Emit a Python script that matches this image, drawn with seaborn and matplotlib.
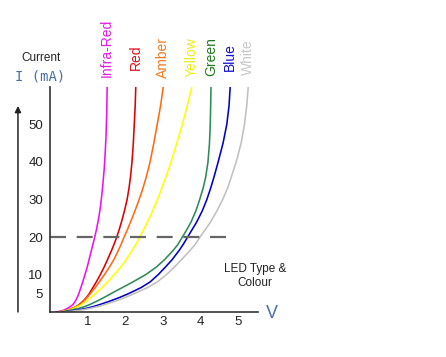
import numpy as np
import pandas as pd
import matplotlib
matplotlib.use("Agg")
import matplotlib.pyplot as plt
import matplotlib.transforms as mtransforms
import seaborn as sns

# ---------------------------------------------
# data (V in volts, I in mA)
# ---------------------------------------------
led_names = ["Infra-Red", "Red", "Amber", "Yellow", "Green", "Blue", "White"]

ir_i = [0, 0.2, 0.5, 1, 1.5, 2, 3, 4, 5, 6.5, 8, 10, 12, 14, 16, 18, 20, 22, 24, 26, 28, 31, 34, 38, 42, 47, 53, 60]
ir_v = [0.15, 0.26, 0.37, 0.47, 0.55, 0.61, 0.68, 0.73, 0.77, 0.82, 0.87, 0.93, 0.99, 1.04, 1.09, 1.14, 1.19,
        1.235, 1.275, 1.31, 1.34, 1.375, 1.405, 1.44, 1.465, 1.49, 1.508, 1.52]

# the other six curves share the same current steps
i_steps = [0, 0.3, 0.6, 1, 1.5, 2, 3, 4, 5, 6.5, 8, 10, 12, 14, 16.5, 18, 20, 22, 24, 27, 30, 33, 36, 40, 45, 50, 55, 60]

red_v = [0.25, 0.39, 0.50, 0.60, 0.70, 0.78, 0.89, 0.98, 1.05, 1.14, 1.23, 1.34, 1.44, 1.53, 1.64, 1.70, 1.775,
         1.84, 1.90, 1.98, 2.05, 2.10, 2.14, 2.18, 2.215, 2.24, 2.265, 2.28]
amber_v = [0.25, 0.38, 0.50, 0.61, 0.71, 0.80, 0.91, 1.00, 1.08, 1.20, 1.31, 1.45, 1.58, 1.70, 1.82, 1.89, 1.97,
           2.06, 2.14, 2.26, 2.37, 2.47, 2.56, 2.66, 2.76, 2.85, 2.94, 3.01]
yellow_v = [0.25, 0.40, 0.53, 0.64, 0.75, 0.84, 0.98, 1.10, 1.22, 1.38, 1.53, 1.71, 1.88, 2.03, 2.19, 2.28, 2.39,
            2.49, 2.59, 2.73, 2.86, 2.97, 3.08, 3.22, 3.37, 3.52, 3.65, 3.77]
green_v = [0.30, 0.45, 0.60, 0.78, 0.94, 1.06, 1.27, 1.46, 1.64, 1.92, 2.20, 2.55, 2.83, 3.05, 3.28, 3.40, 3.52,
           3.64, 3.75, 3.88, 3.98, 4.07, 4.14, 4.20, 4.24, 4.26, 4.272, 4.28]
blue_v = [0.35, 0.58, 0.78, 0.98, 1.17, 1.33, 1.62, 1.88, 2.11, 2.42, 2.66, 2.88, 3.07, 3.25, 3.44, 3.54, 3.66,
          3.78, 3.90, 4.05, 4.17, 4.27, 4.36, 4.47, 4.60, 4.70, 4.76, 4.79]
white_v = [0.40, 0.65, 0.88, 1.08, 1.29, 1.46, 1.77, 2.03, 2.26, 2.59, 2.85, 3.10, 3.31, 3.50, 3.73, 3.86, 3.99,
           4.13, 4.27, 4.44, 4.59, 4.72, 4.82, 4.95, 5.08, 5.17, 5.23, 5.27]

y_ticks = [5, 10, 20, 30, 40, 50]
x_ticks = [1, 2, 3, 4, 5]
dash_level = 20
dash_end = 4.92

curve_colors = ["#ee11ee", "#dd0000", "#ff6a13", "#ffff00", "#2e8b57", "#0000cc", "#c0c0c0"]
label_colors = ["#e619e6", "#e0101a", "#f47a20", "#eeee10", "#1e7a1e", "#1010d0", "#c8c8c8"]
axis_blue = "#4a6fa5"

# ---------------------------------------------
# long table for seaborn
# ---------------------------------------------
series = [(ir_v, ir_i), (red_v, i_steps), (amber_v, i_steps), (yellow_v, i_steps),
          (green_v, i_steps), (blue_v, i_steps), (white_v, i_steps)]
frames = []
for name, (vv, ii) in zip(led_names, series):
    frames.append(pd.DataFrame({"V": vv, "I": ii, "LED": name}))
df = pd.concat(frames, ignore_index=True)

sns.set_theme(style="white")
plt.rcParams["font.family"] = ["Liberation Sans", "DejaVu Sans"]

fig = plt.figure(figsize=(4.46, 3.57), dpi=100)
ax = fig.add_axes([50 / 446, 45 / 357, 208 / 446, 225 / 357])

sns.lineplot(data=df, x="V", y="I", hue="LED", hue_order=led_names,
             palette=dict(zip(led_names, curve_colors)), sort=False,
             estimator=None, legend=False, linewidth=1.15, ax=ax,
             solid_joinstyle="round", solid_capstyle="round")

ax.plot([0, dash_end], [dash_level, dash_level], color="#666666", linewidth=1.6,
        dashes=(7.2, 4.8))

ax.set_xlim(0, 5.53)
ax.set_ylim(0, 60)
ax.set_xticks(x_ticks)
ax.set_xticklabels([str(t) for t in x_ticks])
ax.set_yticks(y_ticks)
ax.set_yticklabels([str(t) for t in y_ticks])
ax.tick_params(axis="both", length=0, labelsize=9.5, colors="#222222")
ax.tick_params(axis="x", pad=3)
ax.tick_params(axis="y", pad=5)
ax.set_xlabel("")
ax.set_ylabel("")
ax.grid(False)
for side in ["top", "right"]:
    ax.spines[side].set_visible(False)
for side in ["left", "bottom"]:
    ax.spines[side].set_color("#333333")
    ax.spines[side].set_linewidth(1.2)

# arrow left of the tick labels
ax.annotate("", xy=(-0.154, 0.916), xytext=(-0.154, 0.0), xycoords="axes fraction",
            arrowprops=dict(arrowstyle="-|>", color="#222222", lw=1.1,
                            mutation_scale=9, shrinkA=0, shrinkB=0),
            annotation_clip=False)

# LED names above each curve
trans = mtransforms.blended_transform_factory(ax.transData, fig.transFigure)
for name, (vv, ii), col in zip(led_names, series, label_colors):
    ypix = 48 if name == "Infra-Red" else 57
    ax.text(vv[-1], 1 - ypix / 357, name, transform=trans, rotation=90,
            ha="center", va="center", fontsize=10, color=col)

fig.text(41 / 446, 1 - 58 / 357, "Current", ha="center", va="center",
         fontsize=8.5, color="#222222")
fig.text(40 / 446, 1 - 76 / 357, "I (mA)", ha="center", va="center",
         fontsize=10, color=axis_blue, family="DejaVu Sans Mono")
fig.text(272 / 446, 1 - 313 / 357, "V", ha="center", va="center",
         fontsize=13, color=axis_blue)
fig.text(255 / 446, 1 - 276 / 357, "LED Type &\nColour", ha="center", va="center",
         fontsize=8.5, color="#222222", linespacing=1.25)

fig.savefig("out.png", dpi=100)
